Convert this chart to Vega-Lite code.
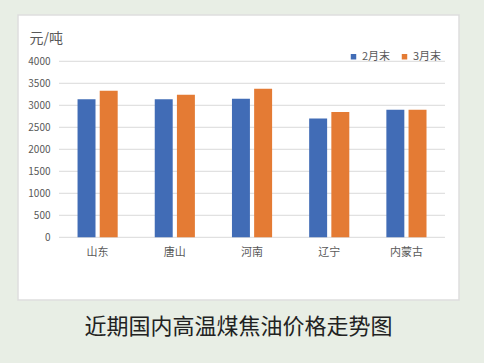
{
  "$schema": "https://vega.github.io/schema/vega-lite/v6.json",
  "width": 441,
  "height": 285,
  "autosize": "none",
  "padding": {"left": 18, "top": 15, "right": 25, "bottom": 63},
  "background": "#e8eee5",
  "title": {
    "text": "近期国内高温煤焦油价格走势图",
    "orient": "bottom",
    "anchor": "middle",
    "offset": 17,
    "fontSize": 22,
    "fontWeight": "normal",
    "color": "#222222",
    "font": "Noto Sans CJK SC"
  },
  "config": {
    "font": "Noto Sans CJK SC",
    "view": {"fill": "#ffffff", "stroke": "#dedede", "strokeWidth": 1.5},
    "axisY": {
      "values": [0, 500, 1000, 1500, 2000, 2500, 3000, 3500, 4000],
      "format": "d",
      "labelOverlap": false
    }
  },
  "datasets": {
    "prices": [
      {"region": "山东", "period": "2月末", "price": 3140},
      {"region": "山东", "period": "3月末", "price": 3330},
      {"region": "唐山", "period": "2月末", "price": 3140},
      {"region": "唐山", "period": "3月末", "price": 3240},
      {"region": "河南", "period": "2月末", "price": 3150},
      {"region": "河南", "period": "3月末", "price": 3375},
      {"region": "辽宁", "period": "2月末", "price": 2700},
      {"region": "辽宁", "period": "3月末", "price": 2850},
      {"region": "内蒙古", "period": "2月末", "price": 2900},
      {"region": "内蒙古", "period": "3月末", "price": 2900}
    ],
    "grid": [
      {"v": 0}, {"v": 500}, {"v": 1000}, {"v": 1500}, {"v": 2000},
      {"v": 2500}, {"v": 3000}, {"v": 3500}, {"v": 4000}
    ]
  },
  "layer": [
    {
      "data": {"name": "grid"},
      "mark": {"type": "rule", "color": "#d9d9d9", "strokeWidth": 1},
      "encoding": {
        "y": {
          "field": "v",
          "type": "quantitative",
          "scale": {"domain": [-1425, 5052], "nice": false, "zero": false},
          "axis": {
            "title": "元/吨",
            "orient": "left",
            "offset": -41,
            "values": [0, 500, 1000, 1500, 2000, 2500, 3000, 3500, 4000],
            "format": "d",
            "labelOverlap": false,
            "domain": false,
            "ticks": false,
            "grid": false,
            "labelPadding": 9,
            "labelFontSize": 10,
            "labelColor": "#595959",
            "labelFont": "Noto Sans CJK SC",
            "titleAngle": 0,
            "titleAlign": "left",
            "titleBaseline": "alphabetic",
            "titleX": -30,
            "titleY": 27,
            "titleFontSize": 14,
            "titleFontWeight": "normal",
            "titleColor": "#595959",
            "titleFont": "Noto Sans CJK SC"
          }
        },
        "x": {
          "datum": 0,
          "type": "quantitative",
          "scale": {"domain": [-0.1062, 1.0363], "nice": false, "zero": false},
          "axis": null
        },
        "x2": {"datum": 1}
      }
    },
    {
      "data": {"name": "prices"},
      "mark": {"type": "bar"},
      "encoding": {
        "x": {
          "field": "region",
          "type": "nominal",
          "sort": ["山东", "唐山", "河南", "辽宁", "内蒙古"],
          "scale": {"paddingInner": 0.48, "paddingOuter": 0.596, "align": 0.647},
          "axis": {
            "title": null,
            "orient": "bottom",
            "offset": -63,
            "domain": false,
            "ticks": false,
            "labelAngle": 0,
            "labelPadding": 9,
            "labelFontSize": 11,
            "labelColor": "#595959"
          }
        },
        "xOffset": {
          "field": "period",
          "type": "nominal",
          "sort": ["2月末", "3月末"],
          "scale": {"paddingInner": 0.19}
        },
        "y": {
          "field": "price",
          "type": "quantitative",
          "stack": null,
          "axis": {
            "title": "元/吨",
            "orient": "left",
            "offset": -41,
            "values": [0, 500, 1000, 1500, 2000, 2500, 3000, 3500, 4000],
            "format": "d",
            "labelOverlap": false,
            "domain": false,
            "ticks": false,
            "grid": false,
            "labelPadding": 9,
            "labelFontSize": 10,
            "labelColor": "#595959",
            "labelFont": "Noto Sans CJK SC",
            "titleAngle": 0,
            "titleAlign": "left",
            "titleBaseline": "alphabetic",
            "titleX": -30,
            "titleY": 27,
            "titleFontSize": 14,
            "titleFontWeight": "normal",
            "titleColor": "#595959",
            "titleFont": "Noto Sans CJK SC"
          }
        },
        "color": {
          "field": "period",
          "type": "nominal",
          "sort": ["2月末", "3月末"],
          "scale": {"domain": ["2月末", "3月末"], "range": ["#416cb6", "#e47b34"]},
          "legend": {
            "title": null,
            "orient": "none",
            "legendX": 330,
            "legendY": 36,
            "direction": "horizontal",
            "symbolType": "square",
            "symbolSize": 30,
            "symbolStrokeWidth": 0,
            "labelFontSize": 11,
            "labelColor": "#595959",
            "labelOffset": 3,
            "columnPadding": 8
          }
        }
      }
    }
  ],
  "resolve": {"scale": {"x": "independent"}, "axis": {"x": "independent"}}
}
